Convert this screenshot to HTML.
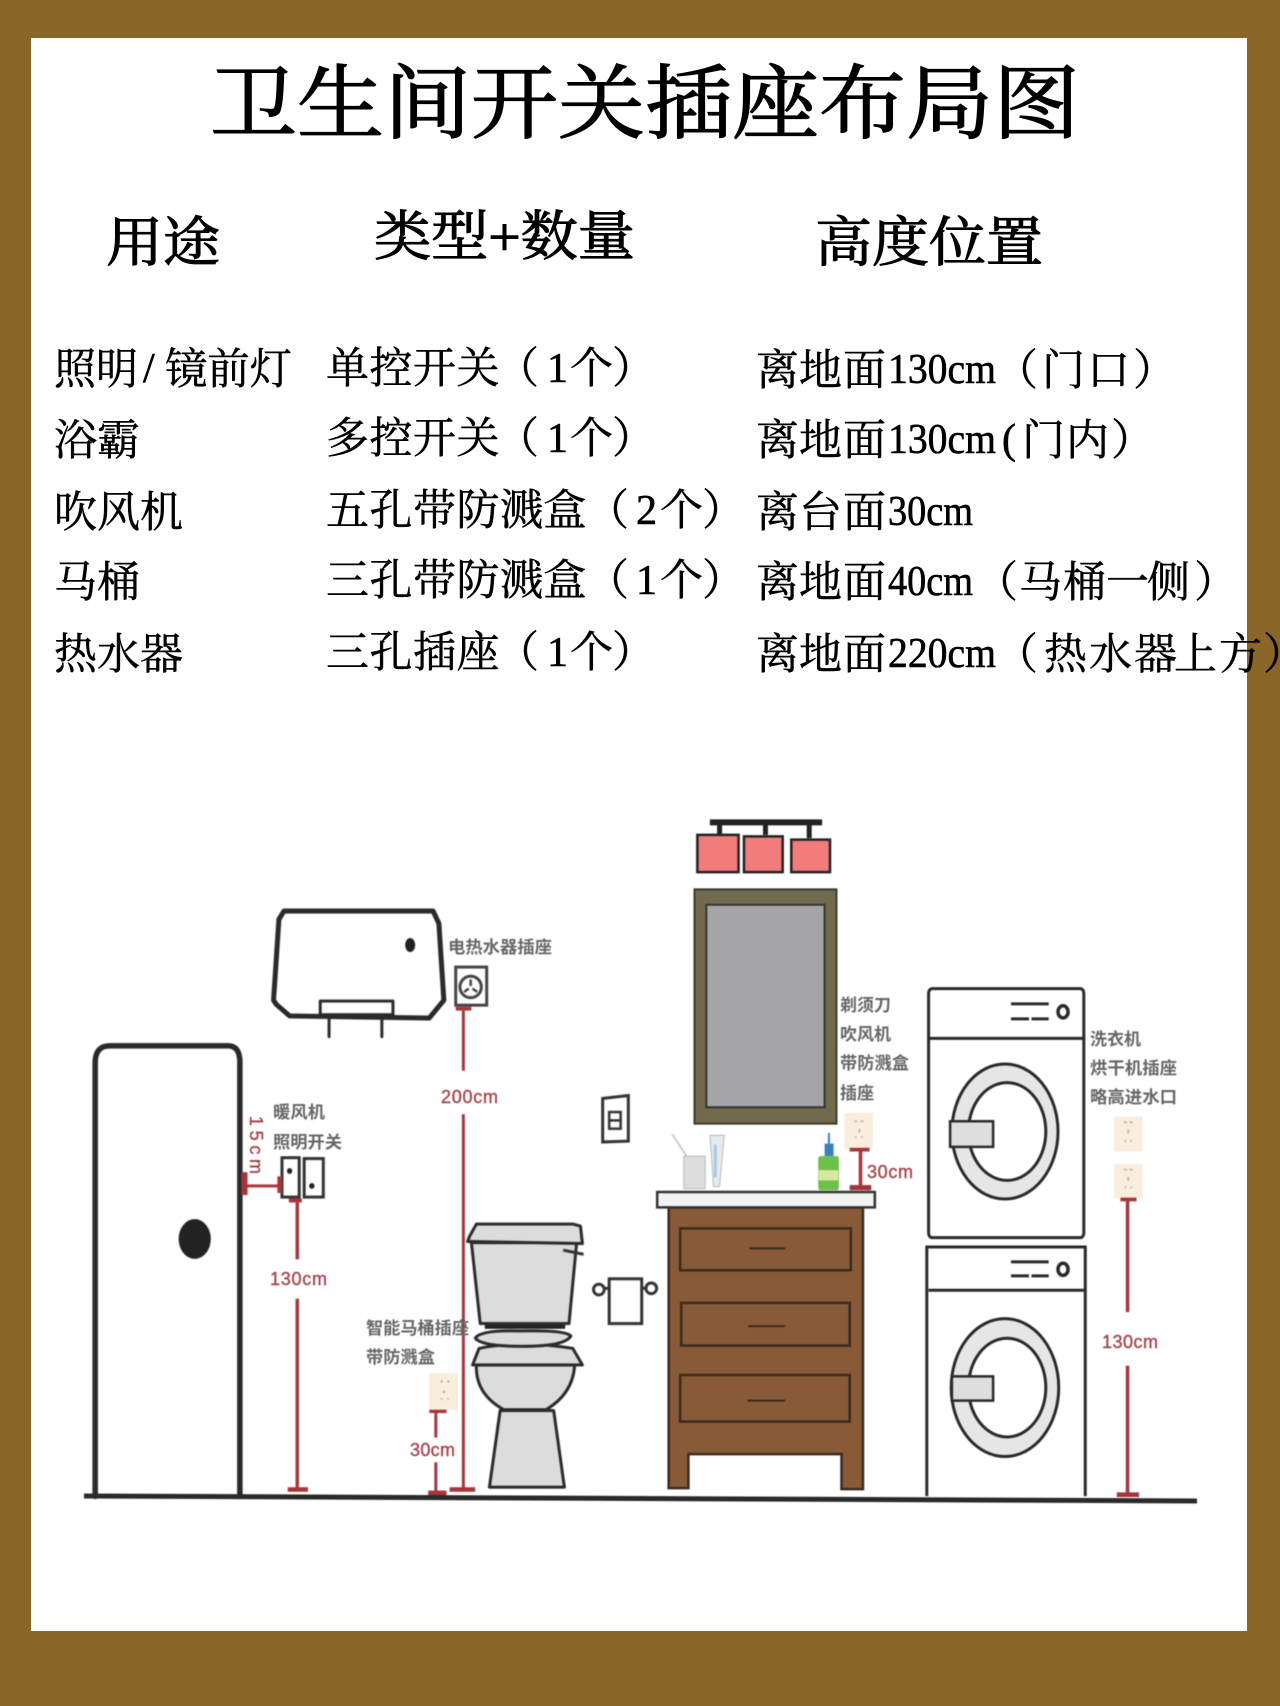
<!DOCTYPE html>
<html lang="zh"><head><meta charset="utf-8"><title>卫生间开关插座布局图</title>
<style>
html,body{margin:0;padding:0;width:1280px;height:1706px;overflow:hidden;background:#8c6529}
svg{display:block}
.s{font-family:"Liberation Serif","Noto Serif CJK SC",serif;fill:#000;stroke:#000;stroke-width:.5}
.m{font-family:"Liberation Serif","Noto Serif CJK SC",serif;fill:#000;stroke:#000;stroke-width:.6;font-size:42px}
.c{font-size:43px}
.h{font-size:54px;stroke-width:1.1}
.l{font-family:"Liberation Sans","Noto Sans CJK SC",sans-serif;font-size:17px;font-weight:700;fill:#666}
.r{font-family:"Liberation Sans",sans-serif;font-size:18px;fill:#a5444a;stroke:#a5444a;stroke-width:.4}
.z *{vector-effect:non-scaling-stroke}
.k{fill:none;stroke:#2a2a2a;stroke-width:5;stroke-linejoin:round;stroke-linecap:round}
.t{stroke:#2a2a2a;stroke-width:3;stroke-linejoin:round;stroke-linecap:round}
.d{stroke:#a5353a;stroke-width:3;fill:none}
.f{fill:#a5353a;stroke:none}
.o{fill:#f9eedd;stroke:none}
.g{fill:#dcdcdc}
.dr{fill:#885a37;stroke:#3a2a1e;stroke-width:2.5}
</style></head><body>
<svg width="1280" height="1706" viewBox="0 0 1280 1706" xmlns="http://www.w3.org/2000/svg">
<rect x="31" y="38" width="1216" height="1593" fill="#fff"/>

<text class="s" x="210" y="132" font-size="81" textLength="870" lengthAdjust="spacingAndGlyphs" style="stroke-width:1.3">卫生间开关插座布局图</text>
<text class="s h" x="106" y="261" textLength="114" lengthAdjust="spacingAndGlyphs">用途</text>
<text class="s h" x="374" y="255" textLength="261" lengthAdjust="spacingAndGlyphs">类型+数量</text>
<text class="s h" x="815" y="261" textLength="228" lengthAdjust="spacingAndGlyphs">高度位置</text>

<!-- column 1 -->
<text class="s c" x="54" y="384" textLength="84" lengthAdjust="spacingAndGlyphs">照明</text><text class="m" x="143" y="382">/</text><text class="s c" x="165" y="384" textLength="127" lengthAdjust="spacingAndGlyphs">镜前灯</text>
<text class="s c" x="54" y="455">浴霸</text>
<text class="s c" x="54" y="527">吹风机</text>
<text class="s c" x="54" y="597">马桶</text>
<text class="s c" x="54" y="669">热水器</text>
<!-- column 2 -->
<text class="s c" x="326 369.5 413 456.5 496" y="383">单控开关（</text><text class="m" x="547" y="382">1</text><text class="s c" x="570 612" y="383">个）</text>
<text class="s c" x="326 369.5 413 456.5 496" y="453">多控开关（</text><text class="m" x="547" y="452">1</text><text class="s c" x="570 612" y="453">个）</text>
<text class="s c" x="326 369.5 413 456.5 500 543.5 586" y="525">五孔带防溅盒（</text><text class="m" x="636" y="524">2</text><text class="s c" x="660 702" y="525">个）</text>
<text class="s c" x="326 369.5 413 456.5 500 543.5 586" y="595">三孔带防溅盒（</text><text class="m" x="636" y="594">1</text><text class="s c" x="660 702" y="595">个）</text>
<text class="s c" x="326 369.5 413 456.5 496" y="667">三孔插座（</text><text class="m" x="547" y="666">1</text><text class="s c" x="570 612" y="667">个）</text>
<!-- column 3 -->
<text class="s c" x="756 799 843" y="385">离地面</text><text class="m" x="888" y="383" textLength="108" lengthAdjust="spacingAndGlyphs">130cm</text><text class="s c" x="995 1042 1087 1133" y="385">（门口）</text>
<text class="s c" x="756 799 843" y="455">离地面</text><text class="m" x="888" y="453" textLength="108" lengthAdjust="spacingAndGlyphs">130cm</text><text class="m" x="1002" y="453">(</text><text class="s c" x="1022 1066 1111" y="455">门内）</text>
<text class="s c" x="756 799 843" y="527">离台面</text><text class="m" x="888" y="525" textLength="85" lengthAdjust="spacingAndGlyphs">30cm</text>
<text class="s c" x="756 799 843" y="597">离地面</text><text class="m" x="888" y="595" textLength="85" lengthAdjust="spacingAndGlyphs">40cm</text><text class="s c" x="975 1019 1063 1106 1147 1194" y="597">（马桶一侧）</text>
<text class="s c" x="756 799 843" y="669">离地面</text><text class="m" x="888" y="667" textLength="108" lengthAdjust="spacingAndGlyphs">220cm</text><text class="s c" x="995 1044 1089 1134 1174 1219 1263" y="669">（热水器上方）</text>

<g style="filter:blur(.6px)">
<!-- left part, zoom-2 coordinates -->
<g class="z" transform="translate(60 880) scale(.3827 .4145)">
  <path class="k" d="M92 1487V440Q92 400 130 400H440Q470 400 470 440V1487" style="stroke-width:5.5"/>
  <ellipse cx="352" cy="866" rx="42" ry="48" fill="#222"/>
  <path class="k" d="M585 75H975L990 105L1003 290L965 333L600 328L565 300L558 290L572 95Z"/>
  <ellipse cx="915" cy="157" rx="13" ry="17" fill="#222"/>
  <rect class="k" x="680" y="292" width="190" height="33" style="stroke-width:3"/>
  <path class="k" d="M703 330V378M841 330V378" style="stroke-width:3"/>
  <rect x="1034" y="210" width="81" height="92" fill="#fff" stroke="#444" stroke-width="3"/>
  <ellipse cx="1073" cy="258" rx="28" ry="26" fill="none" stroke="#444" stroke-width="3"/>
  <path d="M1073 240V256M1056 270L1068 262M1090 270L1078 262" stroke="#444" stroke-width="2.5" fill="none"/>
  <rect class="f" x="1034" y="306" width="41" height="9"/>
  <path class="d" d="M1054 315V460M1054 565V1470"/>
  <rect class="f" x="1018" y="1465" width="67" height="11"/>
  <rect x="580" y="670" width="45" height="95" fill="#fff" stroke="#333" stroke-width="3"/>
  <ellipse cx="600" cy="702" rx="7" ry="7" fill="#222"/>
  <rect x="638" y="672" width="50" height="93" fill="#fff" stroke="#333" stroke-width="3"/>
  <ellipse cx="658" cy="738" rx="7" ry="7" fill="#222"/>
  <path class="d" d="M480 738H575"/>
  <rect class="f" x="474" y="705" width="16" height="55"/>
  <rect class="f" x="568" y="715" width="12" height="40"/>
  <rect class="f" x="598" y="768" width="34" height="10"/>
  <path class="d" d="M620 778V915M620 1010V1470" style="stroke-width:3.5"/>
  <rect class="f" x="595" y="1465" width="53" height="11"/>
  <rect class="o" x="965" y="1190" width="75" height="88"/>
  <path d="M995 1210h5M1012 1210h5M1003 1232v6M995 1252h3M1012 1252h3" stroke="#aaa" stroke-width="2"/>
  <rect class="f" x="965" y="1278" width="45" height="8"/>
  <path class="d" d="M982 1285V1345M982 1405V1475"/>
  <rect class="f" x="962" y="1473" width="48" height="14"/>
  <path d="M1418 527L1485 520V630L1418 632Z" fill="#fff" stroke="#333" stroke-width="3"/>
  <rect x="1435" y="560" width="30" height="40" fill="none" stroke="#333" stroke-width="2.5"/>
  <path d="M1435 580H1465" stroke="#333" stroke-width="2.5"/>
  <!-- toilet -->
  <path class="g t" d="M1150 1280L1122 1465H1318L1290 1280Z"/>
  <path class="g t" d="M1088 1170Q1085 1240 1160 1278H1270Q1340 1240 1345 1170Z"/>
  <path class="g t" d="M1078 1170L1095 1130Q1200 1110 1340 1130L1365 1170Z"/>
  <path class="g t" d="M1085 1105Q1100 1085 1200 1088Q1320 1085 1335 1100Q1320 1125 1210 1125Q1100 1125 1085 1105Z"/>
  <path class="g t" d="M1075 875L1098 1070H1330L1350 875Z"/>
  <path class="g t" d="M1088 830H1340L1360 835L1365 877L1065 872L1070 860Z"/>
  <path d="M1110 1078H1320" stroke="#222" stroke-width="4"/>
  <path d="M1315 893L1368 903" stroke="#333" stroke-width="3"/>
  <!-- paper holder -->
  <rect x="1435" y="962" width="85" height="108" fill="#fff" stroke="#333" stroke-width="3"/>
  <ellipse cx="1408" cy="988" rx="14" ry="13" fill="#fff" stroke="#333" stroke-width="3"/>
  <ellipse cx="1545" cy="985" rx="14" ry="13" fill="#fff" stroke="#333" stroke-width="3"/>
  <path d="M1422 985H1435M1520 985H1531" stroke="#333" stroke-width="3"/>
</g>

<!-- right part, zoom-3 coordinates -->
<g class="z" transform="translate(640 800) scale(.3585 .4656)">
  <path d="M195 48H508" stroke="#222" stroke-width="6"/>
  <path d="M222 48V75M350 48V75M472 48V82" stroke="#222" stroke-width="5"/>
  <rect x="160" y="75" width="115" height="80" fill="#f27b7b" stroke="#222" stroke-width="2.5"/>
  <rect x="290" y="78" width="108" height="77" fill="#f27b7b" stroke="#222" stroke-width="2.5"/>
  <rect x="422" y="85" width="108" height="70" fill="#f27b7b" stroke="#222" stroke-width="2.5"/>
  <rect x="152" y="192" width="396" height="503" fill="#726a4c" stroke="#3a3a2c" stroke-width="2"/>
  <rect x="185" y="225" width="330" height="435" fill="#a5a5a8" stroke="#333" stroke-width="2"/>
  <rect class="o" x="570" y="672" width="80" height="78"/>
  <path d="M598 690h8M615 690h8M612 706v8M600 724h4M617 724h4" stroke="#bbb" stroke-width="2"/>
  <rect class="f" x="585" y="747" width="55" height="8"/>
  <path class="d" d="M615 755V830" style="stroke-width:3.5"/>
  <rect class="f" x="585" y="827" width="60" height="11"/>
  <path d="M90 718L130 765" stroke="#ccc" stroke-width="2"/>
  <rect x="122" y="765" width="60" height="70" fill="#dcdcdc" stroke="#bbb" stroke-width="1"/>
  <path d="M195 720H235L222 830H205Z" fill="#e6e9ee" stroke="#bbb" stroke-width="1"/>
  <path d="M210 740V810" stroke="#a9c8e0" stroke-width="3"/>
  <path d="M527 715V740" stroke="#3a7fc0" stroke-width="2"/>
  <path d="M515 765V738H540V765Z" fill="#3a7fc0"/>
  <rect x="497" y="765" width="58" height="73" rx="6" fill="#6fc04a"/>
  <rect x="498" y="795" width="55" height="22" fill="#d8e8a0"/>
  <path class="dr" d="M80 875H622V1480H562V1405H135V1478H80Z"/>
  <rect x="48" y="842" width="607" height="33" fill="#f3f3f3" stroke="#333" stroke-width="2.5"/>
  <rect class="dr" x="112" y="920" width="476" height="90"/>
  <rect class="dr" x="115" y="1080" width="470" height="92"/>
  <rect class="dr" x="112" y="1235" width="473" height="100"/>
  <path d="M305 963H405M302 1130H405M300 1290H405" stroke="#3a2a1e" stroke-width="2"/>
  <!-- washer top -->
  <rect x="805" y="405" width="433" height="535" rx="10" fill="#fff" stroke="#2a2a2a" stroke-width="3"/>
  <path d="M805 512H1238M1035 438H1140M1035 470H1085M1092 470H1140" stroke="#2a2a2a" stroke-width="3" fill="none"/>
  <ellipse cx="1180" cy="455" rx="14" ry="13" fill="#fff" stroke="#2a2a2a" stroke-width="3.5"/>
  <ellipse cx="1018" cy="712" rx="148" ry="145" fill="#e6e6e6" stroke="#2a2a2a" stroke-width="3"/>
  <ellipse cx="1024" cy="712" rx="108" ry="105" fill="#fff" stroke="#2a2a2a" stroke-width="3"/>
  <rect x="865" y="690" width="120" height="55" fill="#dedede" stroke="#2a2a2a" stroke-width="2.5"/>
  <!-- washer bottom -->
  <path d="M800 1495V960H1242V1495" fill="#fff" stroke="#2a2a2a" stroke-width="3"/>
  <path d="M805 1053H1238M1035 992H1140M1035 1022H1085M1092 1022H1140" stroke="#2a2a2a" stroke-width="3" fill="none"/>
  <ellipse cx="1180" cy="1008" rx="14" ry="13" fill="#fff" stroke="#2a2a2a" stroke-width="3.5"/>
  <ellipse cx="1018" cy="1262" rx="150" ry="148" fill="#e6e6e6" stroke="#2a2a2a" stroke-width="3"/>
  <ellipse cx="1024" cy="1262" rx="108" ry="106" fill="#fff" stroke="#2a2a2a" stroke-width="3"/>
  <rect x="870" y="1238" width="115" height="52" fill="#dedede" stroke="#2a2a2a" stroke-width="2.5"/>
  <!-- washer outlets -->
  <rect class="o" x="1322" y="680" width="80" height="75"/>
  <rect class="o" x="1322" y="782" width="80" height="73"/>
  <path d="M1350 692h8M1366 692h8M1362 708v8M1352 732h4M1368 732h4M1350 794h8M1366 794h8M1362 810v8M1352 832h4M1368 832h4" stroke="#bbb" stroke-width="2"/>
  <rect class="f" x="1340" y="854" width="45" height="8"/>
  <path class="d" d="M1360 862V1100M1360 1215V1490" style="stroke-width:3.5"/>
  <rect class="f" x="1330" y="1487" width="62" height="10"/>
</g>

<path d="M84 1496L1197 1501" stroke="#2a2a2a" stroke-width="5"/>

<!-- diagram labels -->
<text class="l" x="448" y="953" textLength="104" lengthAdjust="spacingAndGlyphs">电热水器插座</text>
<text class="l" x="273" y="1118" textLength="52" lengthAdjust="spacingAndGlyphs">暖风机</text>
<text class="l" x="273" y="1148" textLength="69" lengthAdjust="spacingAndGlyphs">照明开关</text>
<text class="l" x="366" y="1334" textLength="103" lengthAdjust="spacingAndGlyphs">智能马桶插座</text>
<text class="l" x="366" y="1363" textLength="69" lengthAdjust="spacingAndGlyphs">带防溅盒</text>
<text class="l" x="840" y="1011" textLength="51" lengthAdjust="spacingAndGlyphs">剃须刀</text>
<text class="l" x="840" y="1040" textLength="51" lengthAdjust="spacingAndGlyphs">吹风机</text>
<text class="l" x="840" y="1069" textLength="69" lengthAdjust="spacingAndGlyphs">带防溅盒</text>
<text class="l" x="840" y="1099" textLength="34" lengthAdjust="spacingAndGlyphs">插座</text>
<text class="l" x="1090" y="1045" textLength="51" lengthAdjust="spacingAndGlyphs">洗衣机</text>
<text class="l" x="1090" y="1074" textLength="87" lengthAdjust="spacingAndGlyphs">烘干机插座</text>
<text class="l" x="1090" y="1103" textLength="87" lengthAdjust="spacingAndGlyphs">略高进水口</text>

<text class="r" x="441" y="1103" textLength="57" lengthAdjust="spacing">200cm</text>
<text class="r" x="270" y="1285" textLength="57" lengthAdjust="spacing">130cm</text>
<text class="r" x="410" y="1456" textLength="45" lengthAdjust="spacing">30cm</text>
<text class="r" x="867" y="1178" textLength="46" lengthAdjust="spacing">30cm</text>
<text class="r" x="1102" y="1348" textLength="56" lengthAdjust="spacing">130cm</text>
<text class="r" transform="translate(250 1116) rotate(90)" x="0" y="0" textLength="58" lengthAdjust="spacing">15cm</text>
</g>
</svg>
</body></html>
